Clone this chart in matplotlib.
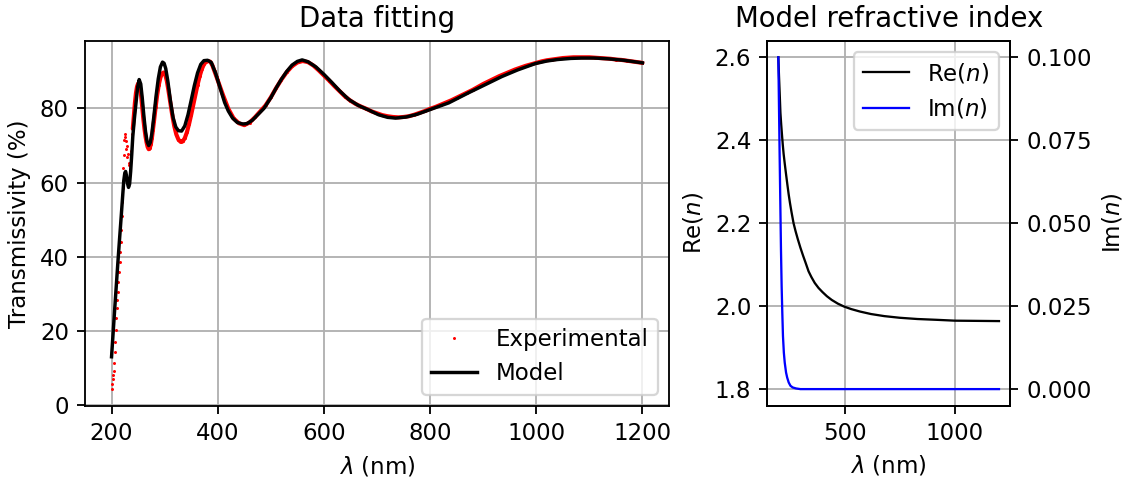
import numpy as np
import matplotlib
matplotlib.use("Agg")
import matplotlib.pyplot as plt

# ---------------- data ----------------
# Experimental transmissivity (%), wavelength in nm
exp_lam = [200, 201, 202, 203, 204, 205, 206, 207, 208, 209, 210, 211, 212, 213,
           214, 215, 216, 217, 218, 219, 220, 221, 222, 223, 224, 225, 226, 227,
           228, 229, 230, 231, 232, 233, 234, 235, 236, 237, 238, 239, 240,
           242, 244, 246, 248, 250, 252, 254, 256, 258, 260, 262, 264, 266, 268,
           270, 272, 274, 276, 278, 280, 283, 286, 289, 292, 295, 298, 301, 304,
           307, 310, 314, 318, 322, 326, 330, 334, 338, 342, 346, 350, 354, 358,
           362, 366, 370, 374, 378, 382, 386, 390, 394, 398,
           400, 410, 420, 430, 440, 450, 460, 470, 480, 490, 500, 510, 520, 530,
           540, 550, 560, 570, 580, 590, 600, 610, 620, 630, 640, 650, 660, 670,
           680, 690, 700, 710, 720, 730, 740, 750, 760, 770, 780, 790, 800, 810,
           820, 830, 840, 850, 860, 870, 880, 890, 900, 910, 920, 930, 940, 950,
           960, 970, 980, 990, 1000, 1010, 1020, 1030, 1040, 1050, 1060, 1070,
           1080, 1090, 1100, 1110, 1120, 1130, 1140, 1150, 1160, 1170, 1180,
           1190, 1200]
exp_T = [4.2, 5.6, 6.9, 8.0, 9.2, 11.3, 14.3, 17.0, 20.2, 23.4, 26.1, 28.3, 30.5,
         33.3, 36.0, 38.7, 41.4, 44.1, 47.3, 51.0, 54.8, 58.6, 63.9, 67.5, 71.6,
         73.2, 72.4, 71.2, 69.0, 69.8, 66.8, 67.6, 64.8, 65.2, 63.6, 64.6, 66.3,
         68.6, 70.8, 73.0, 74.5,
         78.0, 81.5, 84.2, 85.9, 86.7, 86.6, 85.3, 83.0, 80.0, 77.0, 74.5, 72.4,
         70.8, 69.6, 69.0, 69.3, 70.3, 72.0, 74.2, 76.6, 80.3, 83.7, 86.4, 88.3,
         89.4, 89.7, 89.2, 87.5, 85.0, 82.2, 78.5, 75.3, 73.0, 71.6, 71.0, 71.1,
         72.0, 73.6, 75.8, 78.3, 81.0, 83.8, 86.4, 88.7, 90.6, 91.9, 92.6, 92.8,
         92.6, 91.6, 90.0, 88.4,
         87.6, 83.6, 79.9, 77.3, 76.0, 75.5, 76.2, 77.6, 79.2, 80.8, 83.0, 85.5,
         87.8, 89.8, 91.4, 92.4, 92.8, 92.5, 91.6, 90.3, 88.9, 87.5, 86.0, 84.6,
         83.2, 82.1, 81.2, 80.5, 79.9, 79.2, 78.7, 78.2, 77.9, 77.7, 77.6, 77.7,
         77.9, 78.3, 78.8, 79.3, 79.9, 80.4, 81.0, 81.6, 82.2, 82.9, 83.6, 84.3,
         85.0, 85.8, 86.6, 87.3, 88.0, 88.7, 89.3, 89.9, 90.5, 91.0, 91.5, 91.9,
         92.3, 92.7, 93.0, 93.2, 93.4, 93.6, 93.7, 93.8, 93.8, 93.8, 93.8, 93.7,
         93.6, 93.5, 93.4, 93.2, 93.1, 92.9, 92.7, 92.5, 92.3]

# Model transmissivity (%)
mod_lam = [200, 203, 206, 209, 212, 215, 218, 221, 223, 225, 226.5, 228, 230,
           232, 234, 236, 238, 240, 243, 246, 249, 252, 255, 258, 261, 264, 267,
           270, 273, 276, 280, 284, 288, 292, 296, 299, 302, 306, 311, 316, 321,
           326, 332, 338, 344, 350, 356, 362, 368, 374, 381, 388, 396, 405, 413,
           420, 428, 437, 447, 455, 465, 476, 487, 500, 510, 520, 530, 540, 550,
           559, 570, 585, 600, 615, 630, 647, 665, 684, 703, 720, 735, 755, 775,
           800, 835, 872, 905, 935, 965, 998, 1020, 1040, 1065, 1085, 1110, 1135,
           1165, 1200]
mod_T = [13.0, 19.5, 26.0, 32.3, 38.6, 44.6, 50.5, 56.5, 60.5, 62.6, 63.0, 62.0,
         59.8, 58.7, 59.6, 63.0, 67.5, 72.4, 77.2, 81.4, 85.6, 87.8, 86.6, 82.6,
         77.8, 73.8, 71.0, 70.0, 70.8, 73.3, 78.2, 83.5, 88.0, 91.2, 92.5, 92.2,
         90.8, 87.4, 82.0, 77.5, 75.0, 74.0, 73.9, 75.3, 78.3, 82.2, 86.2, 89.6,
         91.9, 92.9, 93.0, 92.4, 89.5, 85.3, 81.6, 79.3, 77.4, 76.2, 75.8, 75.9,
         76.8, 78.4, 80.0, 82.9, 85.5, 87.9, 90.0, 91.7, 92.7, 93.1, 92.6, 91.2,
         89.2, 87.0, 84.7, 82.4, 80.8, 79.6, 78.3, 77.6, 77.4, 77.7, 78.4, 79.7,
         81.5, 84.2, 86.5, 88.6, 90.4, 92.1, 92.8, 93.2, 93.5, 93.6, 93.6, 93.4,
         93.0, 92.3]

# Model refractive index
re_lam = [200, 203, 206, 209.5, 213, 217, 220, 224, 229, 235, 241, 247, 253, 260,
          269, 278, 288, 300, 312, 324, 337, 350, 365, 382, 400, 420, 442, 470,
          498, 530, 570, 620, 680, 750, 830, 920, 1000, 1100, 1200]
re_n = [2.600, 2.555, 2.515, 2.466, 2.438, 2.410, 2.390, 2.367, 2.344, 2.318,
        2.293, 2.269, 2.248, 2.226, 2.200, 2.181, 2.162, 2.141, 2.122, 2.104,
        2.084, 2.070, 2.056, 2.044, 2.034, 2.024, 2.015, 2.006, 1.999, 1.993,
        1.987, 1.981, 1.976, 1.972, 1.969, 1.967, 1.965, 1.9645, 1.964]

im_lam = [200, 203, 206, 209, 212, 215, 218, 221, 225, 229, 235, 240, 247, 255,
          265, 280, 300, 400, 600, 800, 1000, 1200]
im_n = [0.100, 0.085, 0.070, 0.056, 0.042, 0.031, 0.023, 0.016, 0.011, 0.008,
        0.005, 0.0035, 0.002, 0.001, 0.0005, 0.0002, 0.0, 0.0, 0.0, 0.0, 0.0, 0.0]

re_ticks = [1.8, 2.0, 2.2, 2.4, 2.6]
im_ticks = [0.000, 0.025, 0.050, 0.075, 0.100]

# ---------------- figure ----------------
DPI = 165
fig = plt.figure(figsize=(1127 / DPI, 480 / DPI), dpi=DPI)

H = 480.0
W = 1127.0
ax1 = fig.add_axes([85 / W, 1 - 406 / H, (669 - 85) / W, (406 - 40.7) / H])
ax2 = fig.add_axes([767.3 / W, 1 - 405.7 / H, (1010 - 767.3) / W, (405.7 - 40.7) / H])

# Left panel
lam_e = np.array(exp_lam, dtype=float)
T_e = np.array(exp_T, dtype=float)
dense = lam_e >= 240
ax1.plot(lam_e[dense], T_e[dense], color="red", lw=1.8, zorder=2,
         solid_capstyle="round")
ax1.plot(lam_e, T_e, ".", color="red", ms=1.6, mew=0.5, label="Experimental",
         zorder=2)
ax1.plot(mod_lam, mod_T, color="black", lw=1.5, label="Model", zorder=3)
ax1.set_title("Data fitting")
ax1.set_xlabel(r"$\lambda$ (nm)")
ax1.set_ylabel("Transmissivity (%)")
ax1.grid(True)
ax1.legend(loc="lower right")

# Right panel
ln1, = ax2.plot(re_lam, re_n, color="black", lw=1.0, label=r"Re($n$)")
ax2.set_ylim(1.76, 2.64)
ax2.set_yticks(re_ticks)
ax2.set_xlim(150, 1250)
ax2.set_ylabel(r"Re($n$)")
ax2.set_xlabel(r"$\lambda$ (nm)")
ax2.set_title("Model refractive index")
ax2.grid(True)

ax3 = ax2.twinx()
ln2, = ax3.plot(im_lam, im_n, color="blue", lw=1.0, label=r"Im($n$)")
ax3.set_ylim(-0.005, 0.105)
ax3.set_yticks(im_ticks)
ax3.set_ylabel(r"Im($n$)")
ax3.legend(handles=[ln1, ln2], loc="upper right")

fig.savefig("out.png", dpi=DPI)
